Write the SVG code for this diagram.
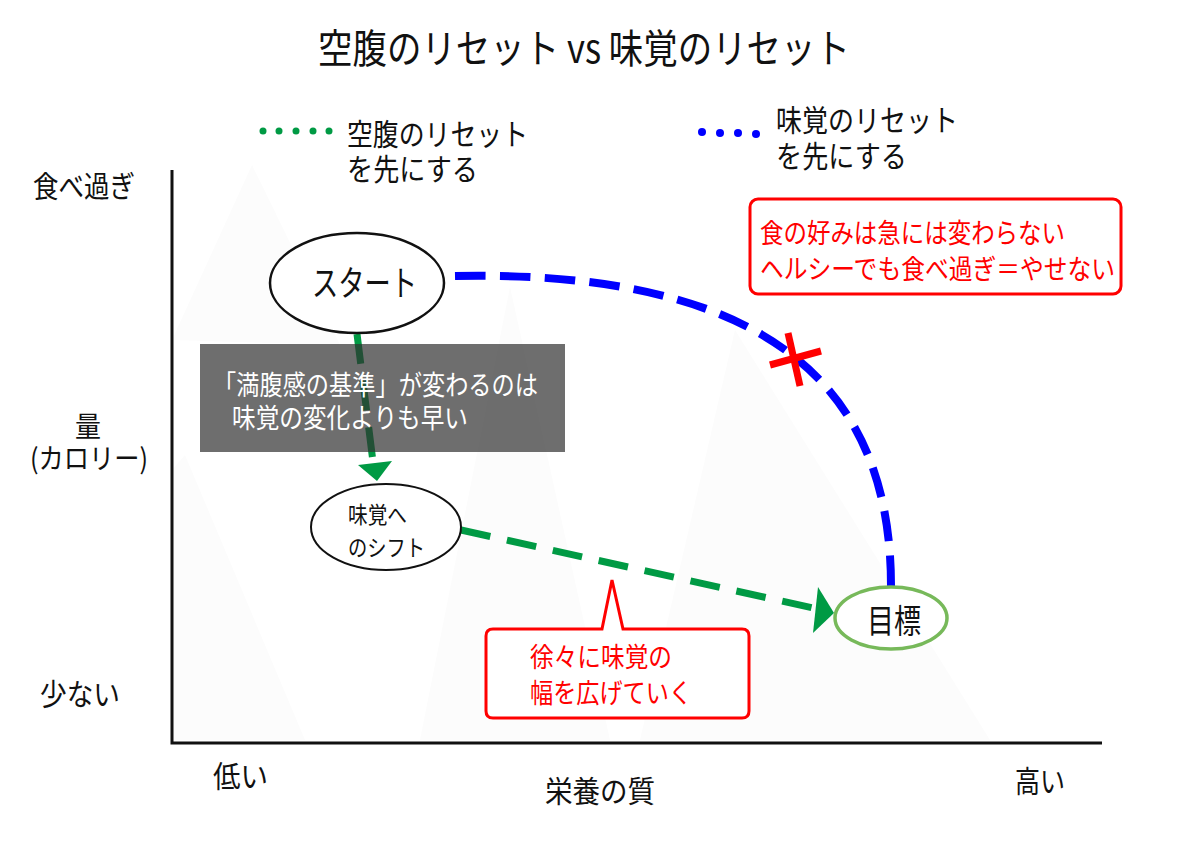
<svg xmlns="http://www.w3.org/2000/svg" width="1200" height="841" viewBox="0 0 1200 841">
<style>
text{font-family:"Noto Sans CJK JP","Liberation Sans",sans-serif;}
.k{fill:#111;}
.w{fill:#fff;}
.r{fill:#ff0000;}
.bg{fill:#fcfcfc;}
.gd{fill:none;stroke:#009a44;stroke-width:7;stroke-dasharray:30 17;}
.bd{fill:none;stroke:#0000ff;stroke-width:8;stroke-dasharray:32 15;}
</style>
<rect width="1200" height="841" fill="#fff"/>
<g id="background">
<polygon class="bg" points="172,340 252,165 340,345"/>
<polygon class="bg" points="185,455 305,740 172,740 172,470"/>
<polygon class="bg" points="420,740 510,287 610,740"/>
<polygon class="bg" points="640,740 735,330 990,740"/>
<polygon class="bg" points="470,740 540,610 600,740"/>
</g>
<g id="title"><text x="318" y="63" font-size="40" textLength="532" lengthAdjust="spacingAndGlyphs" class="k">空腹のリセット vs 味覚のリセット</text></g>
<g id="legend">
<g fill="#009a44"><circle cx="263" cy="131" r="3.5"/><circle cx="279" cy="131" r="3.5"/><circle cx="296" cy="131" r="3.5"/><circle cx="313" cy="131" r="3.5"/><circle cx="329" cy="131" r="3.5"/></g>
<text x="347" y="145" font-size="30" textLength="181" lengthAdjust="spacingAndGlyphs" class="k">空腹のリセット</text>
<text x="347" y="180" font-size="30" textLength="131" lengthAdjust="spacingAndGlyphs" class="k">を先にする</text>
<g fill="#0000ff"><circle cx="702" cy="132" r="4"/><circle cx="720" cy="133" r="4"/><circle cx="738" cy="133" r="4"/><circle cx="756" cy="134" r="4"/></g>
<text x="776" y="131" font-size="30" textLength="182" lengthAdjust="spacingAndGlyphs" class="k">味覚のリセット</text>
<text x="776" y="167" font-size="30" textLength="131" lengthAdjust="spacingAndGlyphs" class="k">を先にする</text>
</g>
<g id="axes" stroke="#111" stroke-width="3" fill="none">
<polyline points="172,170 172,743 1102,743"/>
</g>
<g id="axis-labels">
<text x="33" y="197" font-size="30" textLength="102" lengthAdjust="spacingAndGlyphs" class="k">食べ過ぎ</text>
<text x="75" y="437" font-size="28" textLength="26" lengthAdjust="spacingAndGlyphs" class="k">量</text>
<text x="30" y="469" font-size="28" textLength="118" lengthAdjust="spacingAndGlyphs" class="k">(カロリー)</text>
<text x="40" y="705" font-size="30" textLength="80" lengthAdjust="spacingAndGlyphs" class="k">少ない</text>
<text x="213" y="787" font-size="30" textLength="55" lengthAdjust="spacingAndGlyphs" class="k">低い</text>
<text x="545" y="802" font-size="30" textLength="110" lengthAdjust="spacingAndGlyphs" class="k">栄養の質</text>
<text x="1015" y="792" font-size="30" textLength="50" lengthAdjust="spacingAndGlyphs" class="k">高い</text>
</g>
<g id="connectors">
<path class="gd" d="M357,334 L373,462"/>
<polygon points="358,465 392,461 377,481" fill="#009a44"/>
<path class="gd" d="M461,530 L813,608"/>
<polygon points="818,587 834,613 813,633" fill="#009a44"/>
<path class="bd" pathLength="643" d="M891,586 C891,380 760,270 455,276"/>
<g stroke="#ff0000" stroke-width="7"><line x1="770" y1="365" x2="821" y2="351"/><line x1="788" y1="333" x2="800" y2="386"/></g>
</g>
<g id="note-box">
<rect x="200" y="344" width="365" height="108" fill="#313131" fill-opacity="0.7"/>
<text x="213" y="395" font-size="27" textLength="325" lengthAdjust="spacingAndGlyphs" class="w">「満腹感の基準」が変わるのは</text>
<text x="232" y="428" font-size="27" textLength="236" lengthAdjust="spacingAndGlyphs" class="w">味覚の変化よりも早い</text>
</g>
<g id="start">
<ellipse cx="357" cy="283" rx="87" ry="50" fill="#fff" stroke="#111" stroke-width="2.5"/>
<text x="312" y="296" font-size="35" textLength="105" lengthAdjust="spacingAndGlyphs" class="k">スタート</text>
</g>
<g id="shift">
<ellipse cx="386" cy="527" rx="75" ry="43" fill="#fff" stroke="#111" stroke-width="2"/>
<text x="348" y="523" font-size="23" textLength="59" lengthAdjust="spacingAndGlyphs" class="k">味覚へ</text>
<text x="348" y="556" font-size="23" textLength="77" lengthAdjust="spacingAndGlyphs" class="k">のシフト</text>
</g>
<g id="goal">
<ellipse cx="891" cy="618" rx="56" ry="31" fill="#fff" stroke="#77b95a" stroke-width="3.5"/>
<text x="867" y="633" font-size="33" textLength="54" lengthAdjust="spacingAndGlyphs" class="k">目標</text>
</g>
<g id="callout-top">
<rect x="750" y="199" width="371" height="95" rx="8" fill="#fff" stroke="#ff0000" stroke-width="3"/>
<text x="760" y="243" font-size="27" textLength="305" lengthAdjust="spacingAndGlyphs" class="r">食の好みは急には変わらない</text>
<text x="760" y="279" font-size="27" textLength="355" lengthAdjust="spacingAndGlyphs" class="r">ヘルシーでも食べ過ぎ＝やせない</text>
</g>
<g id="callout-bottom">
<path d="M493,629 L602,629 L612,580 L623,629 L742,629 Q749,629 749,636 L749,711 Q749,718 742,718 L493,718 Q486,718 486,711 L486,636 Q486,629 493,629 Z" fill="#fff" stroke="#ff0000" stroke-width="3"/>
<text x="530" y="667" font-size="27" textLength="142" lengthAdjust="spacingAndGlyphs" class="r">徐々に味覚の</text>
<text x="530" y="703" font-size="27" textLength="162" lengthAdjust="spacingAndGlyphs" class="r">幅を広げていく</text>
</g>
</svg>
